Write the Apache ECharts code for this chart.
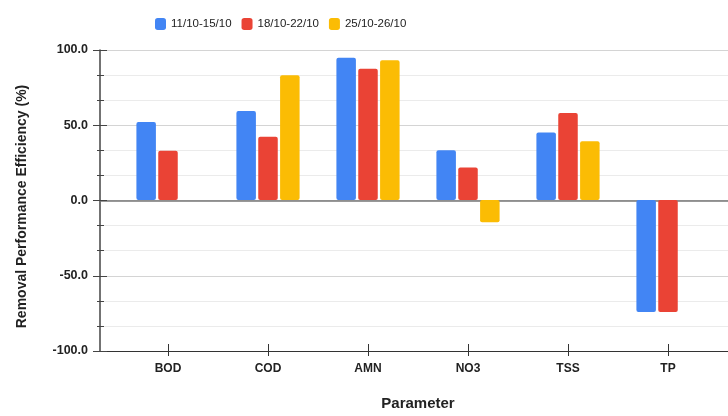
<!DOCTYPE html>
<html>
<head>
<meta charset="utf-8">
<script src="https://cdn.jsdelivr.net/npm/echarts@6/dist/echarts.min.js"></script>
<style>
html,body{margin:0;padding:0;background:#fff;}
#chart{width:728px;height:416px;}
</style>
</head>
<body>
<div id="chart"></div>
<script>
const categories = ['BOD', 'COD', 'AMN', 'NO3', 'TSS', 'TP'];
const seriesNames = ['11/10-15/10', '18/10-22/10', '25/10-26/10'];
const values1 = [52.0, 59.3, 94.8, 33.2, 45.0, -74.6];
const values2 = [32.8, 42.1, 87.5, 21.7, 58.0, -74.6];
const values3 = [null, 83.1, 93.2, -14.8, 39.2, null];
const yTicks = [-100, -50, 0, 50, 100];
const colors = ['#4285F4', '#EA4335', '#FBBC04'];

const FONT = '"Liberation Sans", Arial, sans-serif';
const chart = echarts.init(document.getElementById('chart'), null, {renderer: 'canvas'});

function barSeries(name, data, color) {
  return {
    name: name, type: 'bar', data: data,
    xAxisIndex: 2, yAxisIndex: 2,
    barWidth: 19.5, barGap: '12%',
    itemStyle: {color: color, borderRadius: 2},
    emphasis: {disabled: true}
  };
}

chart.setOption({
  animation: false,
  textStyle: {fontFamily: FONT},
  legend: {
    data: seriesNames,
    left: 150, top: 13,
    itemWidth: 11, itemHeight: 12, itemGap: 10,
    icon: 'roundRect',
    textStyle: {fontFamily: FONT, fontSize: 11.5, color: '#222'}
  },
  grid: [
    {left: 100, right: 0, top: 50, bottom: 65},
    {left: 118, right: 10, top: 50, bottom: 65}
  ],
  xAxis: [
    {gridIndex: 0, type: 'value', min: 0, max: 1, position: 'bottom',
      axisLine: {show: true, onZero: false, lineStyle: {color: '#333', width: 1}},
      axisTick: {show: false}, axisLabel: {show: false}, splitLine: {show: false}},
    {gridIndex: 0, type: 'value', min: 0, max: 1, position: 'top',
      axisLine: {show: true, onZero: true, lineStyle: {color: '#777', width: 1.5}},
      axisTick: {show: false}, axisLabel: {show: false}, splitLine: {show: false}},
    {gridIndex: 1, type: 'category', data: categories, position: 'bottom',
      axisLine: {show: false, onZero: false},
      axisTick: {show: true, alignWithLabel: true, length: 6, lineStyle: {color: '#333'}},
      axisLabel: {fontSize: 12, fontWeight: 'bold', color: '#222', margin: 13, fontFamily: FONT},
      name: 'Parameter', nameLocation: 'middle', nameGap: 46,
      nameTextStyle: {fontSize: 15, fontWeight: 'bold', color: '#222', fontFamily: FONT}},
    {gridIndex: 1, type: 'category', data: categories, position: 'bottom',
      axisLine: {show: false, onZero: false},
      axisTick: {show: true, inside: true, alignWithLabel: true, length: 6, lineStyle: {color: '#333'}},
      axisLabel: {show: false}}
  ],
  yAxis: [
    {gridIndex: 0, type: 'value', min: yTicks[0], max: yTicks[yTicks.length - 1], interval: 50, position: 'left',
      axisLine: {show: true, onZero: false, lineStyle: {color: '#444', width: 1.5}},
      axisTick: {show: true, length: 7, lineStyle: {color: '#444'}},
      minorTick: {show: true, splitNumber: 3, length: 3, lineStyle: {color: '#444'}},
      splitLine: {show: true, lineStyle: {color: '#d4d4d4'}},
      minorSplitLine: {show: true, lineStyle: {color: '#ebebeb'}},
      axisLabel: {formatter: v => v.toFixed(1), fontSize: 12.5, fontWeight: 'bold', color: '#222', margin: 12, fontFamily: FONT},
      name: 'Removal Performance Efficiency (%)', nameLocation: 'middle', nameGap: 71,
      nameTextStyle: {fontSize: 14, fontWeight: 'bold', color: '#222', fontFamily: FONT, padding: [0, 12, 0, 0]}},
    {gridIndex: 0, type: 'value', min: yTicks[0], max: yTicks[yTicks.length - 1], interval: 50, position: 'left',
      axisLine: {show: false, onZero: false},
      axisTick: {show: true, inside: true, length: 7, lineStyle: {color: '#444'}},
      minorTick: {show: true, splitNumber: 3, length: 4, lineStyle: {color: '#444'}},
      splitLine: {show: false}, axisLabel: {show: false}},
    {gridIndex: 1, type: 'value', min: yTicks[0], max: yTicks[yTicks.length - 1], show: false}
  ],
  series: [
    barSeries(seriesNames[0], values1, colors[0]),
    barSeries(seriesNames[1], values2, colors[1]),
    barSeries(seriesNames[2], values3, colors[2])
  ]
});
</script>
</body>
</html>
